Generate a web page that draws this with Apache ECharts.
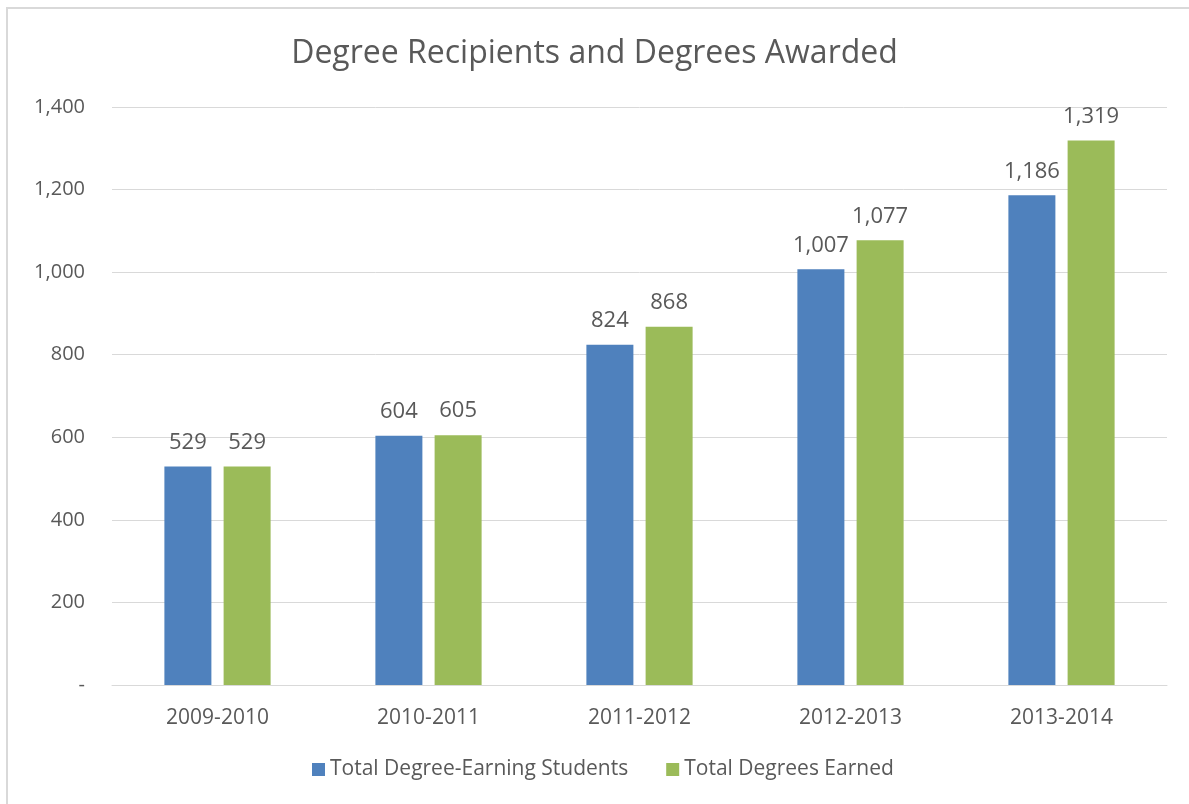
<!DOCTYPE html>
<html>
<head>
<meta charset="utf-8">
<script src="https://cdn.jsdelivr.net/npm/echarts@6/dist/echarts.min.js"></script>
<style>
html, body { margin: 0; padding: 0; background: #fff; }
#chart { width: 1189px; height: 804px; }
</style>
</head>
<body>
<div id="chart"></div>
<script>
var years = ['2009-2010', '2010-2011', '2011-2012', '2012-2013', '2013-2014'];
var students = [529, 604, 824, 1007, 1186];
var degrees = [529, 605, 868, 1077, 1319];

var textColor = '#595959';
var fontName = '"Open Sans", Lato, sans-serif';

function fmt(v) {
	if (v === 0) return '-';
	return v.toLocaleString('en-US');
}

var chart = echarts.init(document.getElementById('chart'));

var labelStyle = {
	show : true,
	position : 'top',
	distance : 13,
	color : textColor,
	fontSize : 22,
	fontFamily : fontName,
	formatter : function(p) {
		return fmt(p.value);
	}
};

chart.setOption({
	animation : false,
	graphic : [ {
		type : 'rect',
		shape : { x : 7, y : 8, width : 1200, height : 820 },
		style : { fill : 'none', stroke : '#d9d9d9', lineWidth : 2 },
		silent : true
	} ],
	title : {
		text : 'Degree Recipients and Degrees Awarded',
		left : 'center',
		top : 33,
		textStyle : {
			color : textColor,
			fontSize : 32,
			fontWeight : 'normal',
			fontFamily : fontName
		}
	},
	legend : {
		bottom : 19,
		left : 307,
		itemWidth : 13,
		itemHeight : 13,
		itemGap : 38,
		icon : 'rect',
		textStyle : {
			color : textColor,
			fontSize : 21,
			fontFamily : fontName
		},
		data : [ 'Total Degree-Earning Students', 'Total Degrees Earned' ]
	},
	grid : {
		left : 112,
		right : 22,
		top : 107,
		bottom : 119
	},
	xAxis : {
		type : 'category',
		data : years,
		axisLine : { lineStyle : { color : '#d9d9d9', width : 1 } },
		axisTick : { show : false },
		axisLabel : {
			color : textColor,
			fontSize : 21,
			fontFamily : fontName,
			margin : 23
		}
	},
	yAxis : {
		type : 'value',
		min : 0,
		max : 1400,
		interval : 200,
		axisLine : { show : false },
		axisTick : { show : false },
		splitLine : { lineStyle : { color : '#d9d9d9', width : 1 } },
		axisLabel : {
			color : textColor,
			fontSize : 20,
			fontFamily : fontName,
			margin : 27,
			formatter : fmt
		}
	},
	series : [ {
		name : 'Total Degree-Earning Students',
		type : 'bar',
		data : students,
		barWidth : 47,
		barGap : '26%',
		itemStyle : { color : '#4F81BD' },
		label : labelStyle
	}, {
		name : 'Total Degrees Earned',
		type : 'bar',
		data : degrees,
		barWidth : 47,
		itemStyle : { color : '#9BBB59' },
		label : labelStyle
	} ]
});
</script>
</body>
</html>
